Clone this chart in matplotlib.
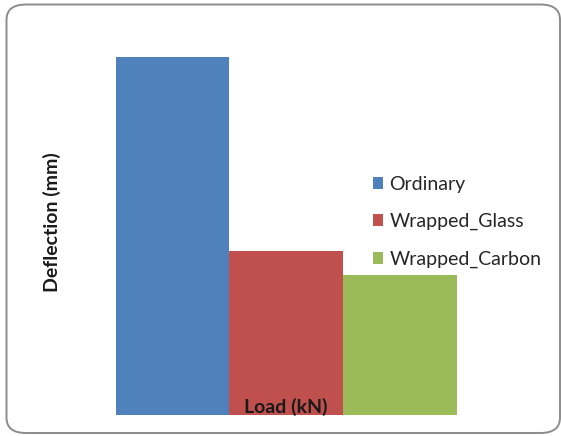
import matplotlib
matplotlib.use("Agg")
import matplotlib.pyplot as plt
from matplotlib.patches import FancyBboxPatch, Patch

# deflection values (no axis scale shown; read as relative bar heights)
series = ["Ordinary", "Wrapped_Glass", "Wrapped_Carbon"]
deflection = [17.9, 8.2, 7.0]
colors = ["#4F81BD", "#C0504D", "#9BBB59"]

plt.rcParams["font.family"] = ["Lato", "DejaVu Sans"]

W, H = 561, 436
fig = plt.figure(figsize=(W / 100, H / 100), dpi=100)

# rounded chart-area border
border = FancyBboxPatch((6.5 / W, (H - 433) / H), (560 - 6.5) / W, (433 - 4.5) / H,
                        boxstyle="round,pad=0,rounding_size=0.035",
                        transform=fig.transFigure, facecolor="none",
                        edgecolor="#8c8c8c", lw=1.4, zorder=5)
fig.patches.append(border)

left, right, top, bottom = 115.5, 457, 57, 415
ax = fig.add_axes([left / W, (H - bottom) / H, (right - left) / W, (bottom - top) / H])
ax.patch.set_alpha(0)

xs = list(range(len(series)))
ax.bar(xs, deflection, width=1.0, color=colors, edgecolor="none")
ax.set_xlim(-0.5, len(series) - 0.5)
ax.set_ylim(0, max(deflection))
for s in ax.spines.values():
    s.set_visible(False)
ax.set_xticks([])
ax.set_yticks([])

ax.text(0.5, 0.022, "Load (kN)", transform=ax.transAxes, ha="center", va="center",
        fontsize=14, fontweight="bold", color="#1a1a1a")
fig.text(52 / W, (H - 222) / H, "Deflection (mm)", rotation=90, ha="center", va="center",
         fontsize=14, fontweight="bold", color="#1a1a1a")

handles = [Patch(facecolor=c, edgecolor="none") for c in colors]
fig.legend(handles, series, loc="upper left", bbox_to_anchor=(363 / W, (H - 166) / H),
           frameon=False, fontsize=14, handlelength=0.55, handleheight=0.55,
           handletextpad=0.3, labelspacing=1.05, borderpad=0, labelcolor="#262626")

fig.savefig("out.png", dpi=100)
